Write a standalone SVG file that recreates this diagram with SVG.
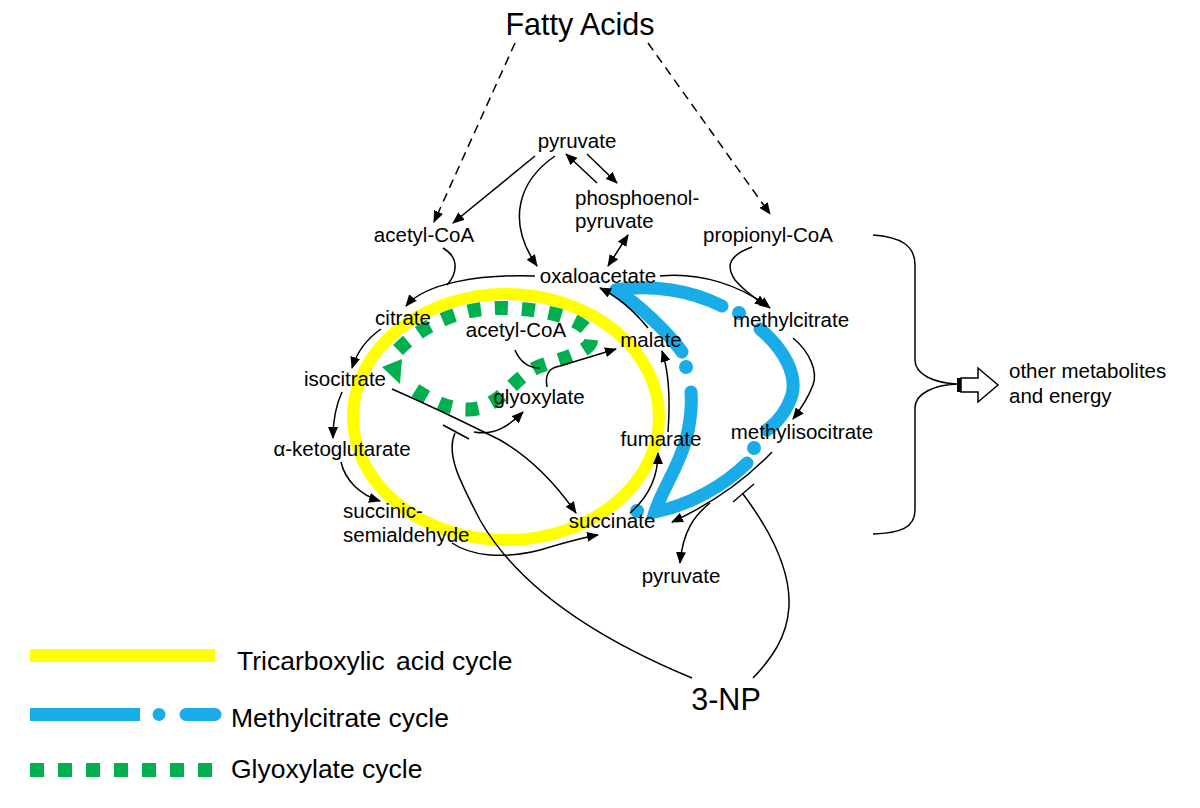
<svg xmlns="http://www.w3.org/2000/svg" width="1200" height="808" viewBox="0 0 1200 808">
<defs>
<marker id="ah" markerUnits="userSpaceOnUse" markerWidth="12" markerHeight="10" refX="11" refY="5" orient="auto-start-reverse" viewBox="0 0 12 10">
<path d="M0,0 L12,5 L0,10 z" fill="#000"/>
</marker>
<style>
text{font-family:"Liberation Sans",Arial,sans-serif;fill:#000}
.n{font-size:20.5px}
.big{font-size:30.5px}
.lg{font-size:26.5px}
.c{fill:none;stroke:#000;stroke-width:1.5}
.a{marker-end:url(#ah)}
.d{stroke-dasharray:9 6}
.blue{fill:none;stroke:#1AACE8;stroke-width:13;stroke-linecap:round}
.grn{fill:none;stroke:#00B050;stroke-width:14;stroke-dasharray:13 14}
</style>
</defs>
<rect width="1200" height="808" fill="#fff"/>

<g id="cycles">
<ellipse id="tca" cx="506" cy="417" rx="153" ry="123" fill="none" stroke="#FFFF00" stroke-width="12"/>
<g id="glyox">
<path class="grn" d="M 398,350 C 430,318 470,307 505,308 C 545,309 580,318 590,333 C 598,350 570,356 540,366 C 515,376 505,400 480,408 C 455,414 430,400 412,388"/>
<polygon points="382,367 402,359 400,384" fill="#00B050"/>
</g>
<g id="methylcit">
<path class="blue" d="M 616,290 C 650,284 690,290 722,306"/>
<circle cx="739" cy="313" r="7" fill="#1AACE8"/>
<path class="blue" d="M 760,329 C 785,350 797,375 792,395 C 787,410 778,422 767,430"/>
<circle cx="754" cy="448" r="7" fill="#1AACE8"/>
<path class="blue" d="M 747,463 C 725,485 690,505 655,512 C 662,490 677,470 686,440 C 691,420 692,405 691,392"/>
<circle cx="686" cy="367" r="7" fill="#1AACE8"/>
<path class="blue" d="M 682,352 C 670,335 640,305 616,290"/>
<circle cx="637" cy="511" r="7" fill="#1AACE8"/>
</g>
</g>

<g id="connectors">
<path class="c d a" d="M 515,43 L 434,222"/>
<path class="c d a" d="M 648,43 L 770,214"/>
<path class="c a" d="M 535,156 L 453,223"/>
<path class="c a" d="M 555,156 C 520,180 505,220 537,266"/>
<path class="c a" d="M 597,183 L 566,154"/>
<path class="c a" d="M 587,154 L 617,183"/>
<path class="c a" style="marker-start:url(#ah)" d="M 628,235 L 608,266"/>
<path class="c a" d="M 535,276 C 480,274 425,283 406,306"/>
<path class="c" d="M 443,248 C 460,258 457,274 447,285"/>
<path class="c a" d="M 381,329 C 365,340 357,352 352,368"/>
<path class="c a" d="M 342,392 C 336,405 333,420 333,438"/>
<path class="c a" d="M 341,462 C 345,480 360,495 380,501"/>
<path class="c a" d="M 452,543 C 470,555 500,560 540,550 C 560,544 580,538 598,535"/>
<path class="c a" d="M 392,389 C 440,410 470,425 500,440 C 535,460 560,490 576,513"/>
<path class="c a" d="M 474,432 C 495,436 510,425 523,412"/>
<path class="c" d="M 692,678 C 600,640 520,590 480,520 C 462,485 445,455 455,433"/>
<path class="c" d="M 443,425 L 469,439"/>
<path class="c" d="M 515,350 C 520,362 528,368 540,368"/>
<path class="c a" d="M 547,387 C 545,375 548,368 560,366 L 616,349"/>
<path class="c a" d="M 648,328 C 635,312 620,298 600,288"/>
<path class="c a" d="M 668,432 C 670,405 670,375 662,351"/>
<path class="c a" d="M 630,513 C 645,500 658,480 658,453"/>
<path class="c a" d="M 660,276 C 700,272 740,285 770,308"/>
<path class="c a" d="M 752,247 C 730,255 725,265 735,280 C 745,292 755,298 766,306"/>
<path class="c a" d="M 793,338 C 810,352 818,372 813,385 C 808,398 800,410 793,419"/>
<path class="c a" d="M 772,452 C 750,475 720,500 672,522"/>
<path class="c a" d="M 710,503 C 695,515 683,530 680,563"/>
<path class="c" d="M 753,678 C 790,640 815,590 743,494"/>
<path class="c" d="M 733,502 L 754,484"/>
<path class="c" d="M 873,235 C 900,237 915,245 915,265 L 915,360 C 915,375 935,383 957,384 C 935,385 915,393 915,408 L 915,510 C 915,528 900,533 873,534"/>
<g id="hollow-arrow">
<rect x="957" y="378" width="4" height="14" fill="#000"/>
<path d="M 961,378 L 978,378 L 978,368 L 998,385 L 978,402 L 978,392 L 961,392 Z" fill="#fff" stroke="#000" stroke-width="1.5"/>
</g>
</g>

<g id="labels">
<g id="fatty-acids"><text class="big" x="580" y="35" text-anchor="middle">Fatty Acids</text></g>
<g id="pyruvate-top"><text class="n" x="577" y="148" text-anchor="middle">pyruvate</text></g>
<g id="pep"><text class="n" x="575" y="205">phosphoenol-</text><text class="n" x="575" y="228">pyruvate</text></g>
<g id="acetylcoa-top"><text class="n" x="424" y="242" text-anchor="middle">acetyl-CoA</text></g>
<g id="oxaloacetate"><text class="n" x="598" y="283" text-anchor="middle">oxaloacetate</text></g>
<g id="propionylcoa"><text class="n" x="768" y="242" text-anchor="middle">propionyl-CoA</text></g>
<g id="citrate"><text class="n" x="403" y="325" text-anchor="middle">citrate</text></g>
<g id="acetylcoa-in"><text class="n" x="516" y="337" text-anchor="middle">acetyl-CoA</text></g>
<g id="malate"><text class="n" x="651" y="347" text-anchor="middle">malate</text></g>
<g id="isocitrate"><text class="n" x="345" y="386" text-anchor="middle">isocitrate</text></g>
<g id="glyoxylate"><text class="n" x="539" y="404" text-anchor="middle">glyoxylate</text></g>
<g id="akg"><text class="n" x="342" y="456" text-anchor="middle">α-ketoglutarate</text></g>
<g id="fumarate"><text class="n" x="661" y="446" text-anchor="middle">fumarate</text></g>
<g id="ssa"><text class="n" x="343" y="518">succinic-</text><text class="n" x="343" y="542">semialdehyde</text></g>
<g id="succinate"><text class="n" x="612" y="528" text-anchor="middle">succinate</text></g>
<g id="methylcitrate"><text class="n" x="791" y="327" text-anchor="middle">methylcitrate</text></g>
<g id="methylisocitrate"><text class="n" x="802" y="439" text-anchor="middle">methylisocitrate</text></g>
<g id="pyruvate-bot"><text class="n" x="681" y="583" text-anchor="middle">pyruvate</text></g>
<g id="other"><text class="n" x="1009" y="378">other metabolites</text><text class="n" x="1009" y="403">and energy</text></g>
<g id="np3"><text class="big" x="726" y="710" text-anchor="middle">3-NP</text></g>
</g>

<g id="legend">
<line x1="30" y1="655.5" x2="215" y2="655.5" stroke="#FFFF00" stroke-width="13"/>
<text class="lg" x="237" y="670">Tricarboxylic <tspan dx="4">acid cycle</tspan></text>
<line x1="30" y1="714.5" x2="140" y2="714.5" stroke="#1AACE8" stroke-width="13"/>
<circle cx="159" cy="714.5" r="6.5" fill="#1AACE8"/>
<path d="M 186,714.5 L 215,714.5" stroke="#1AACE8" stroke-width="13" stroke-linecap="round"/>
<rect x="209" y="708" width="6" height="13" fill="#1AACE8"/>
<text class="lg" x="231" y="727">Methylcitrate cycle</text>
<line x1="30" y1="770" x2="212" y2="770" stroke="#00B050" stroke-width="14" stroke-dasharray="14 14"/>
<text class="lg" x="231" y="778">Glyoxylate cycle</text>
</g>
</svg>
